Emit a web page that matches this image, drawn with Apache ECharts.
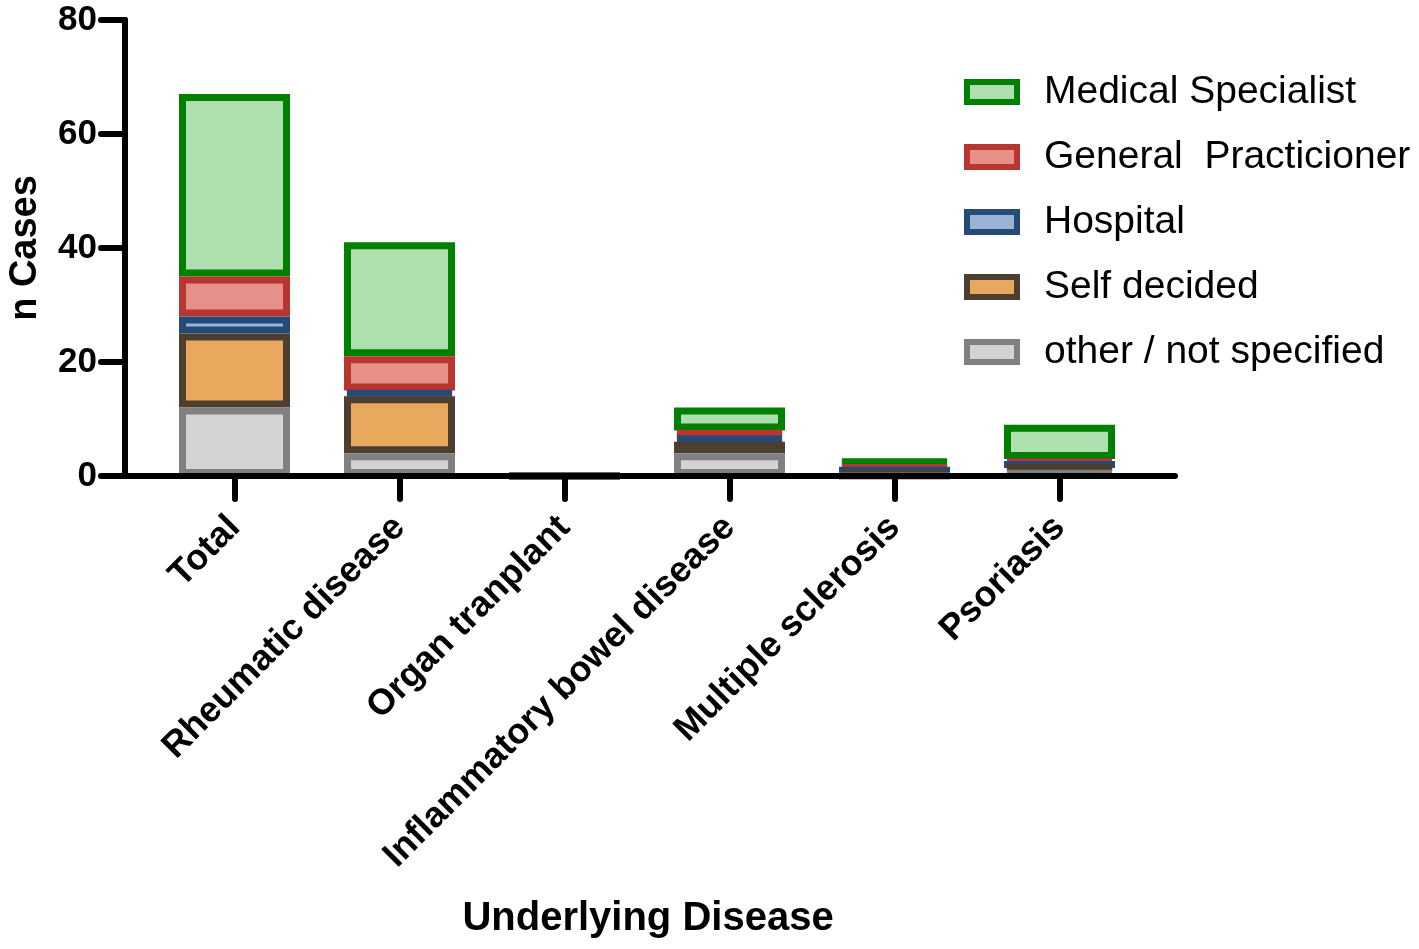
<!doctype html>
<html lang="en">
<head>
<meta charset="UTF-8">
<title>n Cases by Underlying Disease</title>
<script src="https://cdn.jsdelivr.net/npm/echarts@6/dist/echarts.min.js"></script>
<style>
  html, body { margin: 0; padding: 0; background: #fff; }
  #main { width: 1419px; height: 949px; }
</style>
</head>
<body>
<div id="main"></div>
<script type="text/javascript">
    // categories and stacked counts (bottom to top)
    var diseases = ['Total', 'Rheumatic disease', 'Organ tranplant', 'Inflammatory bowel disease', 'Multiple sclerosis', 'Psoriasis'];
    var otherNotSpecified = [12, 4, 0, 4, 0, 1];
    var selfDecided = [13, 10, 0, 2, 1, 1];
    var hospital = [3, 1, 0, 1, 0, 0];
    var generalPracticioner = [7, 6, 0, 1, 1, 1];
    var medicalSpecialist = [32, 20, 0, 4, 1, 6];
    var yTicks = [0, 20, 40, 60, 80];

    var font = 'Arial, "Liberation Sans", sans-serif';

    // lower segments are drawn last so their top edge stays visible
    function makeSeries(name, values, fill, edge, z) {
        return {
            name: name,
            type: 'bar',
            stack: 'cases',
            xAxisIndex: 1,
            yAxisIndex: 1,
            data: values,
            barWidth: 111,
            z: z,
            itemStyle: {
                color: fill,
                borderColor: edge,
                borderWidth: 7
            }
        };
    }

    var myChart = echarts.init(document.getElementById('main'));

    var option = {
        animation: false,
        backgroundColor: '#fff',
        grid: [
            { left: 125, right: 244, top: 20, bottom: 473, outerBoundsMode: 'none' },   // frame with the axis lines
            { left: 152, right: 277, top: 20, bottom: 473, outerBoundsMode: 'none' }    // the bars
        ],
        legend: {
            data: ['Medical Specialist', 'General  Practicioner', 'Hospital', 'Self decided', 'other / not specified'],
            orient: 'vertical',
            left: 964,
            top: 70,
            padding: 0,
            itemWidth: 50,
            itemHeight: 20,
            itemGap: 21,
            icon: 'rect',
            itemStyle: { borderWidth: 6 },
            textStyle: { fontFamily: font, fontSize: 39, lineHeight: 44, color: '#000', padding: [0, 0, 0, 22] }
        },
        xAxis: [
            {
                gridIndex: 0,
                type: 'value',
                min: 0,
                max: 1,
                z: 10,
                name: 'Underlying Disease',
                nameLocation: 'middle',
                nameGap: 423,
                nameTextStyle: { fontFamily: font, fontSize: 40, fontWeight: 'bold', color: '#000', padding: [0, 4, 0, 0] },
                splitLine: { show: false },
                axisTick: { show: false },
                axisLabel: { show: false },
                axisLine: { show: true, lineStyle: { color: '#000', width: 6, cap: 'round' } }
            },
            {
                gridIndex: 1,
                type: 'category',
                data: diseases,
                z: 10,
                axisLine: { show: false },
                axisTick: { show: true, alignWithLabel: true, length: 23, lineStyle: { color: '#000', width: 6, cap: 'round' } },
                axisLabel: {
                    rotate: 45,
                    margin: 46,
                    fontFamily: font,
                    fontSize: 36,
                    fontWeight: 'bold',
                    color: '#000'
                }
            }
        ],
        yAxis: [
            {
                gridIndex: 0,
                type: 'value',
                min: 0,
                max: 80,
                interval: 20,
                z: 10,
                name: 'n Cases',
                nameLocation: 'middle',
                nameGap: 80,
                nameTextStyle: { fontFamily: font, fontSize: 38, fontWeight: 'bold', color: '#000' },
                splitLine: { show: false },
                axisLine: { show: true, lineStyle: { color: '#000', width: 6, cap: 'round' } },
                axisTick: { show: true, length: 24, lineStyle: { color: '#000', width: 6, cap: 'round' } },
                axisLabel: {
                    margin: 28,
                    fontFamily: font,
                    fontSize: 35,
                    fontWeight: 'bold',
                    color: '#000',
                    formatter: function (v) { return yTicks.indexOf(v) >= 0 ? String(v) : ''; }
                }
            },
            {
                gridIndex: 1,
                type: 'value',
                min: 0,
                max: 80,
                show: false
            }
        ],
        series: [
            makeSeries('other / not specified', otherNotSpecified, '#d3d3d3', '#808080', 7),
            makeSeries('Self decided', selfDecided, '#e8a85e', '#4d3f2f', 6),
            makeSeries('Hospital', hospital, '#9ab4d6', '#244a78', 5),
            makeSeries('General  Practicioner', generalPracticioner, '#e5918a', '#b83530', 4),
            makeSeries('Medical Specialist', medicalSpecialist, '#addfaf', '#008000', 3)
        ]
    };

    myChart.setOption(option);
</script>
</body>
</html>
